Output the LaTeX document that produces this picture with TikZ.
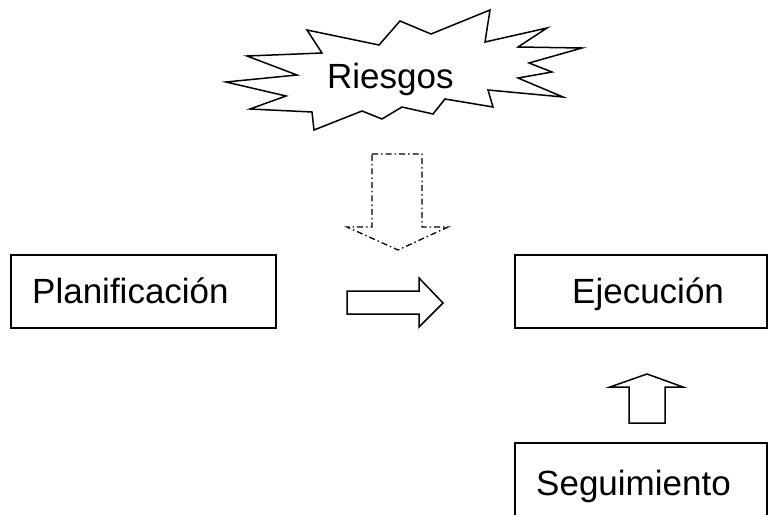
\documentclass[tikz,border=0pt]{standalone}
\usepackage{fontspec}
\setmainfont{Liberation Sans}
\begin{document}
\begin{tikzpicture}[x=1pt,y=-1pt,
  box/.style={draw=black,line width=1.6pt,fill=white,anchor=north west,inner sep=0pt},
  lbl/.style={anchor=base west,inner sep=0pt,font=\fontsize{35}{40}\selectfont},
  blockarrow/.style={draw=black,line width=1.5pt,line join=miter,fill=white},
  dasharrow/.style={draw=black,line width=1.3pt,dash pattern=on 6pt off 3pt on 1.5pt off 3pt},
  star/.style={draw=black,line width=1.5pt,line join=miter,fill=white}]
\useasboundingbox (0,0) rectangle (768,514);
\fill[white] (0,0) rectangle (768,514);
% Riesgos star
\draw[star] (307,30) -- (379,45) -- (400,21) -- (431,34) -- (490,10) -- (485,42)
  -- (547,28) -- (518,47) -- (582,48) -- (529,63) -- (552,72) -- (518,78)
  -- (563,97) -- (488,90) -- (493,107) -- (445,99) -- (433,114) -- (402,107)
  -- (382,119) -- (362,111) -- (314,130) -- (312,112) -- (250,109) -- (286,96)
  -- (226,82) -- (297,75) -- (247,56) -- (322,53) -- cycle;
\node[lbl] (riesgos) at (327,88) {Riesgos};
% boxes
\node[box,minimum width=265pt,minimum height=73pt] (plan) at (10,254) {};
\node[lbl] (plantext) at (32,303) {Planificación};
\node[box,minimum width=252pt,minimum height=73pt] (ejec) at (514,254) {};
\node[lbl] (ejectext) at (572,303) {Ejecución};
\node[box,minimum width=252pt,minimum height=80pt] (seg) at (514,442) {};
\node[lbl] (segtext) at (536,495) {Seguimiento};
% dashed down arrow (Riesgos -> process)
\draw[dasharrow] (372,154) -- (422,154) -- (422,227) -- (448,227) -- (398,250)
  -- (347,227) -- (372,227) -- cycle;
% right arrow (Planificacion -> Ejecucion)
\draw[blockarrow] (347,291) -- (419,291) -- (419,278) -- (443,303) -- (419,327)
  -- (419,314) -- (347,314) -- cycle;
% up arrow (Seguimiento -> Ejecucion)
\draw[blockarrow] (629,423) -- (629,387) -- (610,387) -- (647,374) -- (683,387)
  -- (665,387) -- (665,423) -- cycle;
\end{tikzpicture}
\end{document}
